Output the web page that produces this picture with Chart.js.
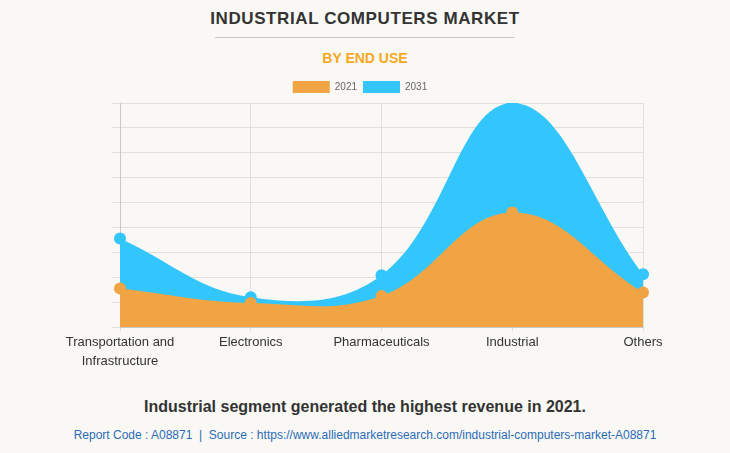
<!DOCTYPE html>
<html>
<head>
<meta charset="utf-8">
<script src="https://cdn.jsdelivr.net/npm/chart.js@4.4.0/dist/chart.umd.min.js"></script>
<style>
  html, body { margin: 0; padding: 0; }
  body { width: 730px; height: 453px; background: #f9f8f4; position: relative; overflow: hidden; font-family: 'Liberation Sans', Arial, sans-serif; }
  .title { position: absolute; top: 9px; left: 0; width: 730px; text-align: center; font-size: 17px; font-weight: bold; color: #333; letter-spacing: 0.6px; }
  .rule { position: absolute; top: 37px; left: 215px; width: 300px; height: 1px; background: #c9c9c9; }
  .sub { position: absolute; top: 50px; left: 0; width: 730px; text-align: center; font-size: 14px; font-weight: bold; color: #f7a823; }
  .wrap { position: absolute; top: 75px; left: 0; }
  .note { position: absolute; top: 398px; left: 0; width: 730px; text-align: center; font-size: 16px; font-weight: bold; color: #333; }
  .src { position: absolute; top: 428px; left: 0; width: 730px; text-align: center; font-size: 12px; color: #2b6cb8; }
</style>
</head>
<body>
<div class="title">INDUSTRIAL COMPUTERS MARKET</div>
<div class="rule"></div>
<div class="sub">BY END USE</div>
<div class="wrap"><canvas id="ch" width="730" height="300"></canvas></div>
<div class="note">Industrial segment generated the highest revenue in 2021.</div>
<div class="src">Report Code : A08871 &nbsp;|&nbsp; Source : https://www.alliedmarketresearch.com/industrial-computers-market-A08871</div>

<script>
// end-use segments (axis 0..90 without labels)
const categories = [['Transportation and', 'Infrastructure'], 'Electronics', 'Pharmaceuticals', 'Industrial', 'Others'];
const rev2021 = [15.5, 9.6, 12.5, 46, 13.9];
const rev2031 = [35.6, 12, 20.8, 90, 21.2];
const yTicks = [0, 10, 20, 30, 40, 50, 60, 70, 80, 90];

const font = "'Liberation Sans', Arial, sans-serif";

new Chart(document.getElementById('ch').getContext('2d'), {
  type: 'line',
  data: {
    labels: categories,
    datasets: [
      { label: '2021', data: rev2021, backgroundColor: '#f0a444', borderColor: '#f0a444', borderWidth: 0,
        fill: 'origin', tension: 0.4, pointRadius: 6, pointBackgroundColor: '#f0a444', pointBorderWidth: 0 },
      { label: '2031', data: rev2031, backgroundColor: '#33c6fd', borderColor: '#33c6fd', borderWidth: 0,
        fill: 'origin', tension: 0.4, pointRadius: 6, pointBackgroundColor: '#33c6fd', pointBorderWidth: 0 },
    ],
  },
  options: {
    responsive: false,
    devicePixelRatio: 1,
    animation: false,
    // legend sits a bit left of the plot centre, like the original
    layout: { padding: { left: 77, right: 87, top: 0, bottom: 0 } },
    plugins: {
      legend: {
        position: 'top',
        labels: { boxWidth: 37, boxHeight: 12, padding: 6, color: '#666', font: { family: font, size: 10 } }
      },
      tooltip: { enabled: false },
    },
    scales: {
      x: {
        offset: false,
        grid: { color: '#e2e0da', tickLength: 4 },
        border: { color: '#c8c8c8' },
        ticks: { color: '#333', maxRotation: 0, autoSkip: false, padding: 2, font: { family: font, size: 13, lineHeight: 1.45 } },
        afterFit: s => { s.height = 48; },
      },
      y: {
        min: yTicks[0],
        max: yTicks[yTicks.length - 1],
        afterBuildTicks: s => { s.ticks = yTicks.map(v => ({ value: v })); },
        grid: { color: '#e2e0da', tickLength: 8 },
        border: { color: '#c8c8c8' },
        ticks: { callback: () => '', padding: 0 },
        afterFit: s => { s.width = 43; },
      },
    },
  },
});
</script>
</body>
</html>
